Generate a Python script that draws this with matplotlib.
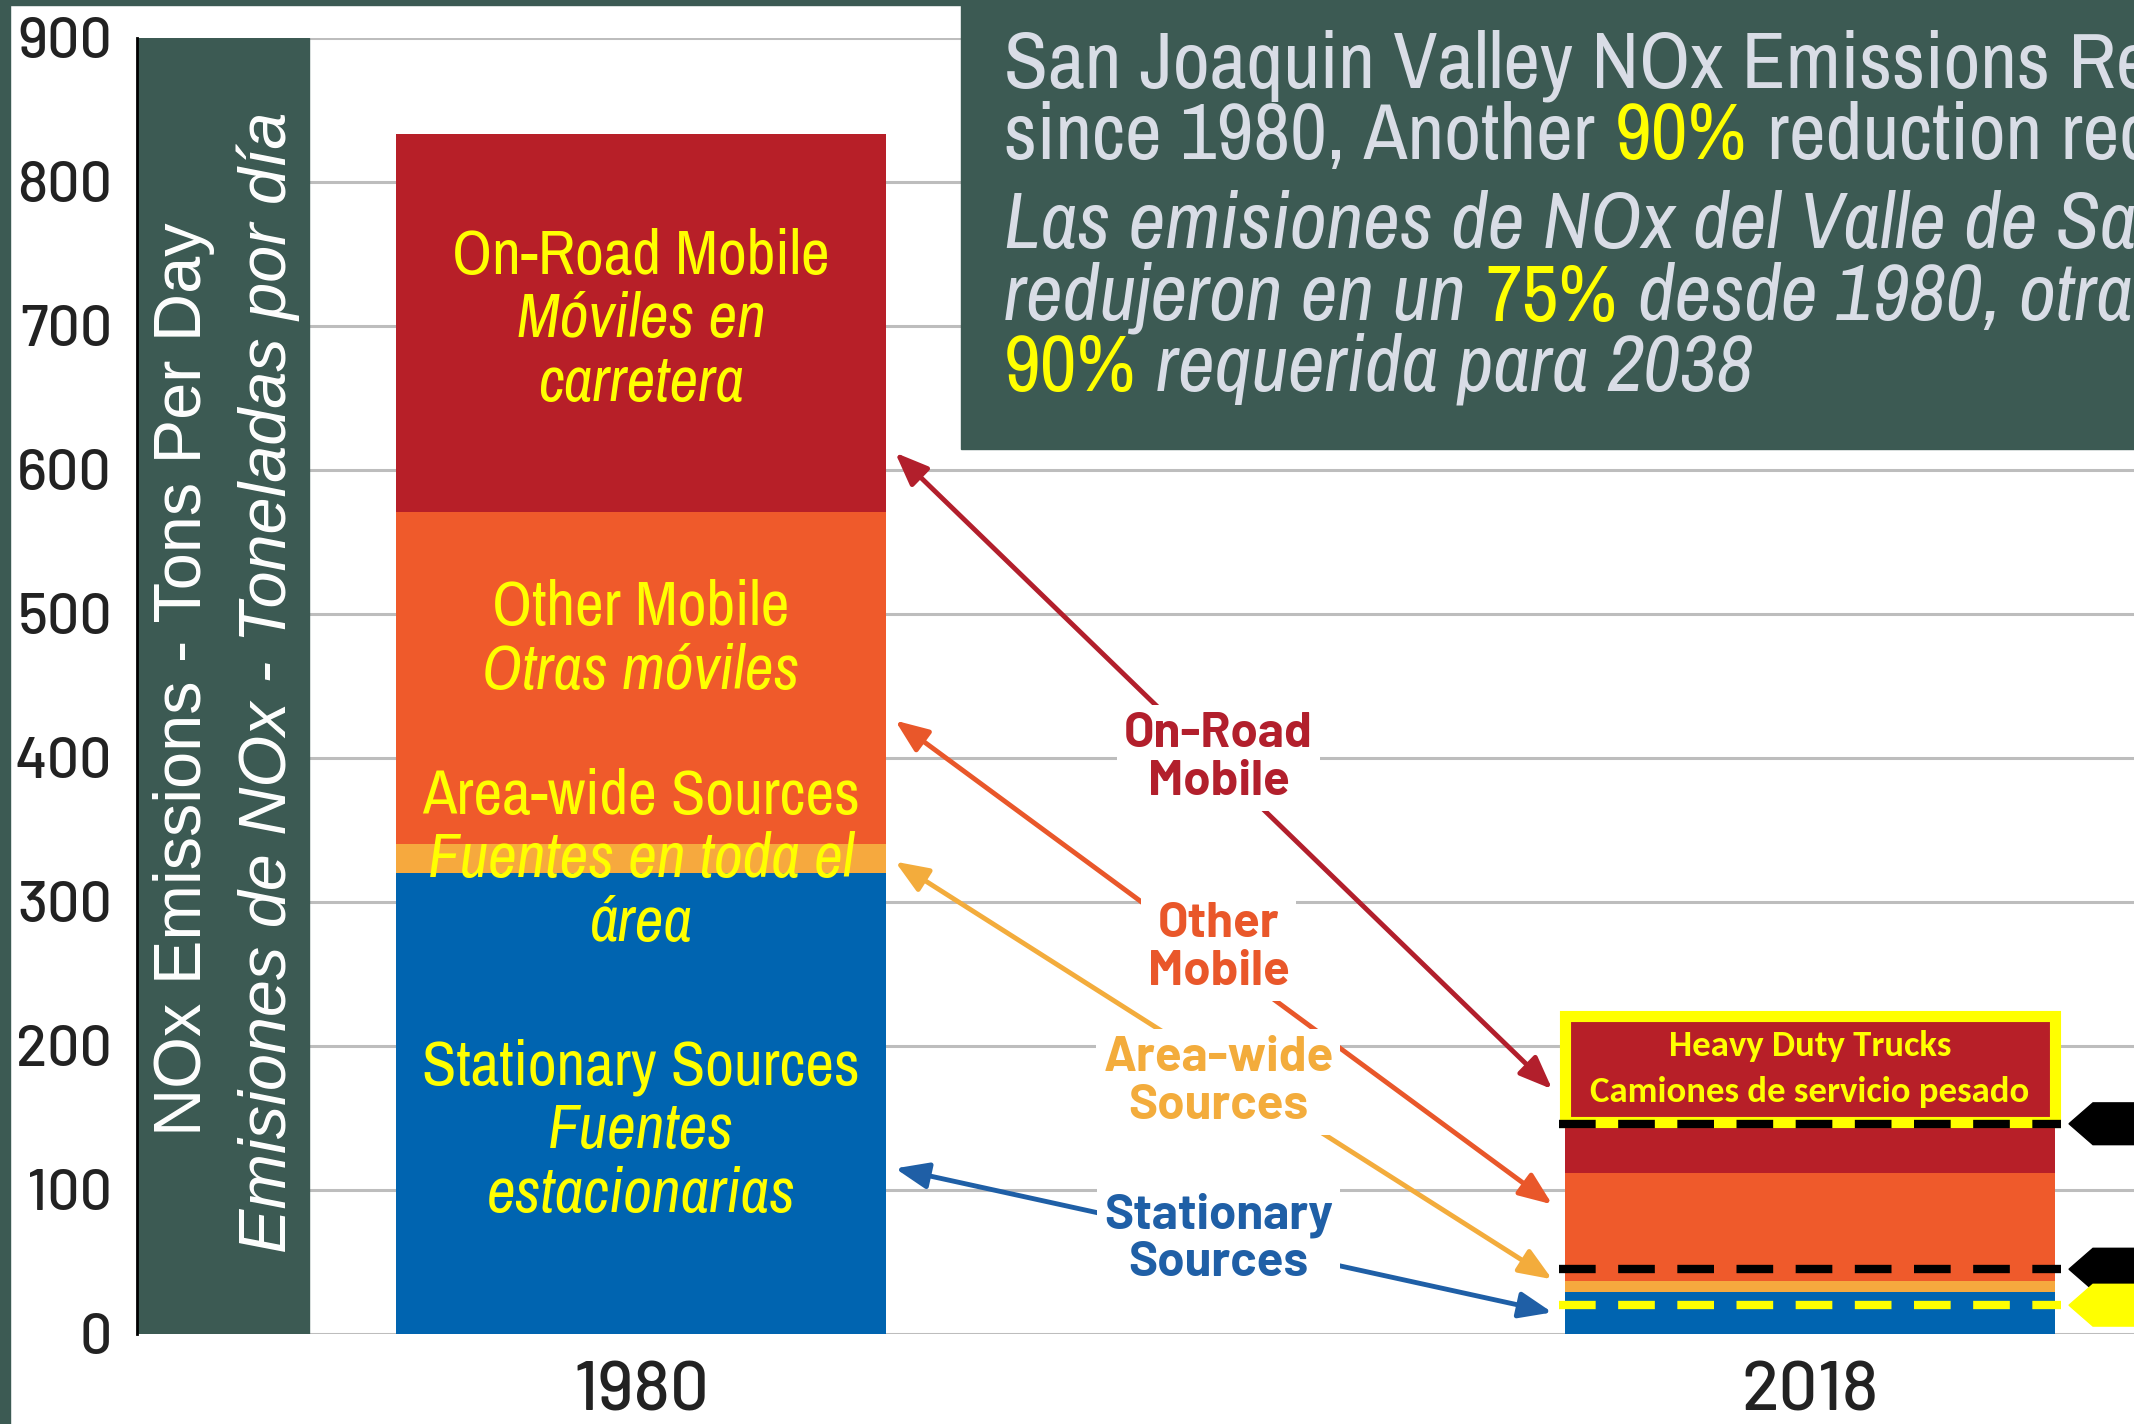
import matplotlib
matplotlib.use("Agg")
import matplotlib.pyplot as plt
from matplotlib import font_manager as fm
from matplotlib.patches import Rectangle, Polygon

years = ["1980", "2018"]
stationary = [320, 29]
area_wide = [20, 8]
other_mobile = [231, 75]
on_road = [262, 98]

# dashed target levels on the 2018 bar
black_targets = [146, 45]
yellow_target = 20
trucks_range = [147, 221]  # Heavy Duty Trucks box

# arrows between the bars: value at 1980 end, at 2018 end, label height
arrow_labels = ["On-Road\nMobile", "Other\nMobile", "Area-wide\nSources", "Stationary\nSources"]
arrow_from = [612, 426, 328, 115]
arrow_to = [170, 90, 38, 15]
arrow_label_at = [400, 268, 175, 66]

RED = "#b71f28"
ORANGE = "#ef5a2b"
AREA = "#f6a93e"
BLUE = "#0064b0"
GREEN = "#3c5a53"
YEL = "#ffff00"
LIGHT = "#d9dde6"
arrow_colors = ["#b21f2c", "#e9572a", "#f3ac3c", "#1f5fa6"]

# pick fonts that exist here
ttf = fm.fontManager.ttflist
have = {f.name for f in ttf}


def pick(names, need_italic=False):
    for n in names:
        if n in have and (not need_italic or any(f.name == n and f.style == "italic" for f in ttf)):
            return n
    return "DejaVu Sans"


NARROW = pick(["Liberation Sans Narrow", "Arial Narrow", "Archivo Narrow", "Roboto Condensed",
               "Sofia Sans Semi Condensed", "Open Sans Condensed"], need_italic=True)
DIN = pick(["Barlow", "D-DIN", "Roboto"])
CALIBRI = pick(["Carlito", "Lato"])
ARIAL = pick(["Liberation Sans", "Arimo"])

W, H = 2134, 1424
fig = plt.figure(figsize=(W / 100, H / 100), dpi=100)
renderer = fig.canvas.get_renderer()


def fit(s, target_px, **kw):
    # font size that makes s about target_px wide
    t = fig.text(0, 0, s, fontsize=100, **kw)
    w = t.get_window_extent(renderer).width
    t.remove()
    return 100 * target_px / w


tick_size = fit("900", 95, family=DIN, fontweight="medium")
year_size = fit("1980", 136, family=DIN, fontweight="medium")
mid_size = fit("On-Road", 189, family=DIN, fontweight="bold")
truck_size = fit("Camiones de servicio pesado", 440, family=CALIBRI, fontweight="bold")
bar_size = fit("Stationary Sources", 438, family=NARROW)
title_size = fit("since 1980, Another", 590, family=NARROW)

ax = fig.add_axes([137 / W, 90 / H, 1997 / W, 1296 / H])

x = [0, 1]
bw = 0.419
bottom = [0, 0]
for vals, col in [(stationary, BLUE), (area_wide, AREA), (other_mobile, ORANGE), (on_road, RED)]:
    ax.bar(x, vals, bw, bottom=bottom, color=col, zorder=2)
    bottom = [b + v for b, v in zip(bottom, vals)]

ax.set_xlim(-0.4311, 1.2772)
ax.set_ylim(0, 900)
ax.set_yticks(range(0, 1000, 100))
ax.set_xticks(x)
ax.set_xticklabels(years)
ax.yaxis.grid(True, color="#bdbdbd", lw=2.2)
ax.set_axisbelow(True)
for s in ["top", "right", "bottom"]:
    ax.spines[s].set_visible(False)
ax.spines["left"].set_linewidth(2)
ax.tick_params(axis="y", length=0, pad=18, labelsize=tick_size, labelcolor="#222222")
ax.tick_params(axis="x", length=0, pad=20, labelsize=year_size, labelcolor="#222222")
for lbl in ax.get_yticklabels() + ax.get_xticklabels():
    lbl.set_family(DIN)
    lbl.set_fontweight("medium")


def stack_label(y, lines, step=46):
    n = len(lines)
    for i, (s, style) in enumerate(lines):
        off = ((n - 1) / 2 - i) * step
        ax.annotate(s, (x[0], y), xytext=(0, off), textcoords="offset points",
                    ha="center", va="center", color=YEL, fontsize=bar_size,
                    style=style, family=NARROW, zorder=4)


stack_label(704, [("On-Road Mobile", "normal"), ("Móviles en", "italic"), ("carretera", "italic")])
stack_label(482, [("Other Mobile", "normal"), ("Otras móviles", "italic")])
stack_label(329, [("Area-wide Sources", "normal"), ("Fuentes en toda el", "italic"), ("área", "italic")])
stack_label(141, [("Stationary Sources", "normal"), ("Fuentes", "italic"), ("estacionarias", "italic")])

# arrows linking the two bars
xa = x[0] + bw / 2 + 0.008
xb = x[1] - bw / 2 - 0.011
for name, y0, y1, yl, col in zip(arrow_labels, arrow_from, arrow_to, arrow_label_at, arrow_colors):
    ax.annotate("", xy=(xa, y0), xytext=(xb, y1),
                arrowprops=dict(arrowstyle="<|-|>,head_length=1.0,head_width=0.4",
                                color=col, lw=3.5, shrinkA=0, shrinkB=0, mutation_scale=20),
                zorder=3)
    ax.text(0.494, yl, name, ha="center", va="center", color=col, fontsize=mid_size,
            fontweight="bold", family=DIN, linespacing=1.1,
            bbox=dict(facecolor="white", edgecolor="none", pad=5), zorder=4)

# heavy duty trucks box on the 2018 bar
ax.add_patch(Rectangle((x[1] - bw / 2, trucks_range[0]), bw, trucks_range[1] - trucks_range[0],
                       facecolor=RED, edgecolor=YEL, lw=8, zorder=5))
mid = (trucks_range[0] + trucks_range[1]) / 2
ax.text(x[1], mid + 16, "Heavy Duty Trucks", ha="center", va="center", color=YEL,
        fontsize=truck_size, fontweight="bold", family=CALIBRI, zorder=7)
ax.text(x[1], mid - 16, "Camiones de servicio pesado", ha="center", va="center", color=YEL,
        fontsize=truck_size, fontweight="bold", family=CALIBRI, zorder=7)

# dashed target lines and tags on the right
lx = [x[1] - 0.215, x[1] + 0.215]
for v, col in [(black_targets[0], "black"), (black_targets[1], "black"), (yellow_target, YEL)]:
    ax.plot(lx, [v, v], color=col, lw=6, dashes=(4.4, 2.7), zorder=6)
    tip = 1.2216
    ax.add_patch(Polygon([(tip, v), (tip + 0.0205, v + 14.5), (1.4, v + 14.5),
                          (1.4, v - 14.5), (tip + 0.0205, v - 14.5)],
                         closed=True, color=col, zorder=6))

# y-axis title box
ax.add_patch(Rectangle((0, 0), 0.0861, 1, transform=ax.transAxes, color=GREEN, zorder=2))
ax.text(0.0235, 0.505, "NOx Emissions - Tons Per Day", rotation=90, transform=ax.transAxes,
        ha="center", va="center", color="white", fontsize=48, family=ARIAL, zorder=3)
ax.text(0.0656, 0.503, "Emisiones de NOx - Toneladas por día", rotation=90, transform=ax.transAxes,
        ha="center", va="center", color="white", fontsize=48, style="italic",
        family=ARIAL, zorder=3)

# frame strips and the heading box
ft = fig.transFigure
ax.add_patch(Rectangle((0, 0), 10 / W, 1, transform=ft, color=GREEN, clip_on=False, zorder=8))
ax.add_patch(Rectangle((0, 1 - 5 / H), 1, 5 / H, transform=ft, color=GREEN, clip_on=False, zorder=8))
ax.add_patch(Rectangle((961 / W, 1 - 449 / H), 1, 1, transform=ft, color=GREEN, clip_on=False, zorder=8))

title_lines = [
    (88, [("San Joaquin Valley NOx Emissions Reduced 75%", LIGHT, "normal")]),
    (159, [("since 1980, Another", LIGHT, "normal"), ("90%", YEL, "normal"),
           ("reduction required by 2038", LIGHT, "normal")]),
    (248, [("Las emisiones de NOx del Valle de San Joaquín se", LIGHT, "italic")]),
    (320, [("redujeron en un", LIGHT, "italic"), ("75%", YEL, "normal"),
           ("desde 1980, otra reducción del", LIGHT, "italic")]),
    (391, [("90%", YEL, "normal"), ("requerida para 2038", LIGHT, "italic")]),
]
gap = 0.25 * title_size
for base, pieces in title_lines:
    prev = None
    for s, col, style in pieces:
        if prev is None:
            prev = ax.text(1004 / W, 1 - base / H, s, transform=ft, va="baseline", ha="left",
                           color=col, fontsize=title_size, style=style, family=NARROW,
                           zorder=9, clip_on=False)
        else:
            prev = ax.annotate(s, xy=(1, 0), xycoords=prev, xytext=(gap, 0),
                               textcoords="offset points", va="bottom", ha="left",
                               color=col, fontsize=title_size, style=style, family=NARROW,
                               zorder=9, annotation_clip=False)

fig.savefig("out.png", dpi=100, facecolor="white")
